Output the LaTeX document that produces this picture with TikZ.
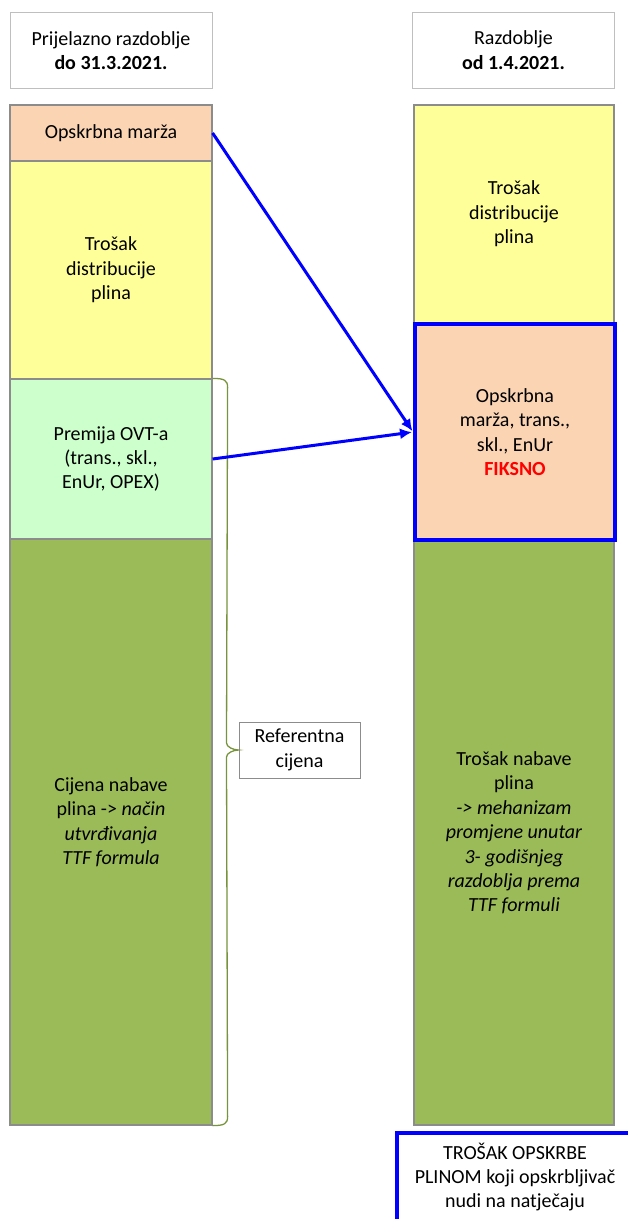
\documentclass[tikz,border=0pt]{standalone}
\usepackage{fontspec}
\setmainfont{Carlito}
\usetikzlibrary{arrows.meta,calc}

\definecolor{peach}{HTML}{FBD4B4}
\definecolor{paleyellow}{HTML}{FFFF99}
\definecolor{palegreen}{HTML}{CCFFCC}
\definecolor{olive}{HTML}{9BBB59}
\definecolor{darkolive}{HTML}{77933C}

\begin{document}
\begin{tikzpicture}[
  x=1pt,y=-1pt,
  every node/.style={align=center,font=\fontsize{20}{24.4}\selectfont},
  header/.style={draw=black!25,line width=1pt,fill=white,minimum width=202pt,minimum height=76pt,inner sep=0pt},
  block/.style={draw=black!45,line width=1.2pt,minimum width=202pt,inner sep=0pt},
  fixed/.style={block,draw=blue,line width=4pt,minimum width=200pt},
  note/.style={draw=black!45,line width=1pt,fill=white,minimum width=121pt,minimum height=56pt,inner sep=0pt},
  link/.style={-{Latex[length=12pt,width=11pt]},draw=blue,line width=3pt,shorten >=1pt},
  grp/.style={draw=darkolive,line width=1.3pt}]

  \useasboundingbox (0,0) rectangle (628,1219);

  % Column headers
  \node[header] (headL) at (111,50.5) {Prijelazno razdoblje\\\textbf{do 31.3.2021.}};
  \node[header] (headR) at (513.5,50) {Razdoblje\\\textbf{od 1.4.2021.}};

  % Left column: transitional period
  \node[block,fill=peach,minimum height=56pt] (marzaL) at (111,133) {Opskrbna marža};
  \node[block,fill=paleyellow,minimum height=218pt] (distL) at (111,270) {Trošak\\distribucije\\plina};
  \node[block,fill=palegreen,minimum height=160pt] (premija) at (111,459) {Premija OVT-a\\(trans., skl.,\\EnUr, OPEX)};
  \node[block,fill=olive,minimum height=586pt,text depth=22pt] (cijena) at (111,832) {Cijena nabave\\plina -> \textit{način}\\\textit{utvrđivanja}\\\textit{TTF formula}};

  % Right column: from 1.4.2021.
  \node[block,fill=paleyellow,minimum height=218pt,minimum width=200pt] (distR) at (514,214) {Trošak\\distribucije\\plina};
  \node[block,fill=olive,minimum height=584pt,minimum width=200pt] (nabava) at (514,833) {Trošak nabave\\plina\\\textit{-> mehanizam}\\\textit{promjene unutar}\\\textit{3- godišnjeg}\\\textit{razdoblja prema}\\\textit{TTF formuli}};
  \node[fixed,fill=peach,minimum height=216pt] (marzaR) at (515,432) {Opskrbna\\marža, trans.,\\skl., EnUr\\\textcolor{red}{\textbf{FIKSNO}}};

  % Brace and its label
  \node[note] (ref) at (299.5,750) {Referentna\\cijena};
  \draw[grp] (premija.north east) .. controls +(12,0) and +(0,-7) .. ++(15,9)
    -- ($(ref.west)+(-12,-7)$) .. controls +(0,4) and +(-5,0) .. (ref.west)
    .. controls +(-5,0) and +(0,-4) .. ($(ref.west)+(-12,7)$)
    -- ($(cijena.south east)+(15,-9)$) .. controls +(0,7) and +(12,0) .. (cijena.south east);

  % Offer box at the bottom
  \node[draw=blue,line width=4pt,fill=white,minimum width=236pt,minimum height=88pt,inner sep=0pt] (ponuda) at (515,1177) {TROŠAK OPSKRBE\\PLINOM koji opskrbljivač\\nudi na natječaju};

  % Arrows into the fixed part
  \draw[link] (marzaL.east) -- (marzaR.west);
  \draw[link] (premija.east) -- (marzaR.west);
\end{tikzpicture}
\end{document}
